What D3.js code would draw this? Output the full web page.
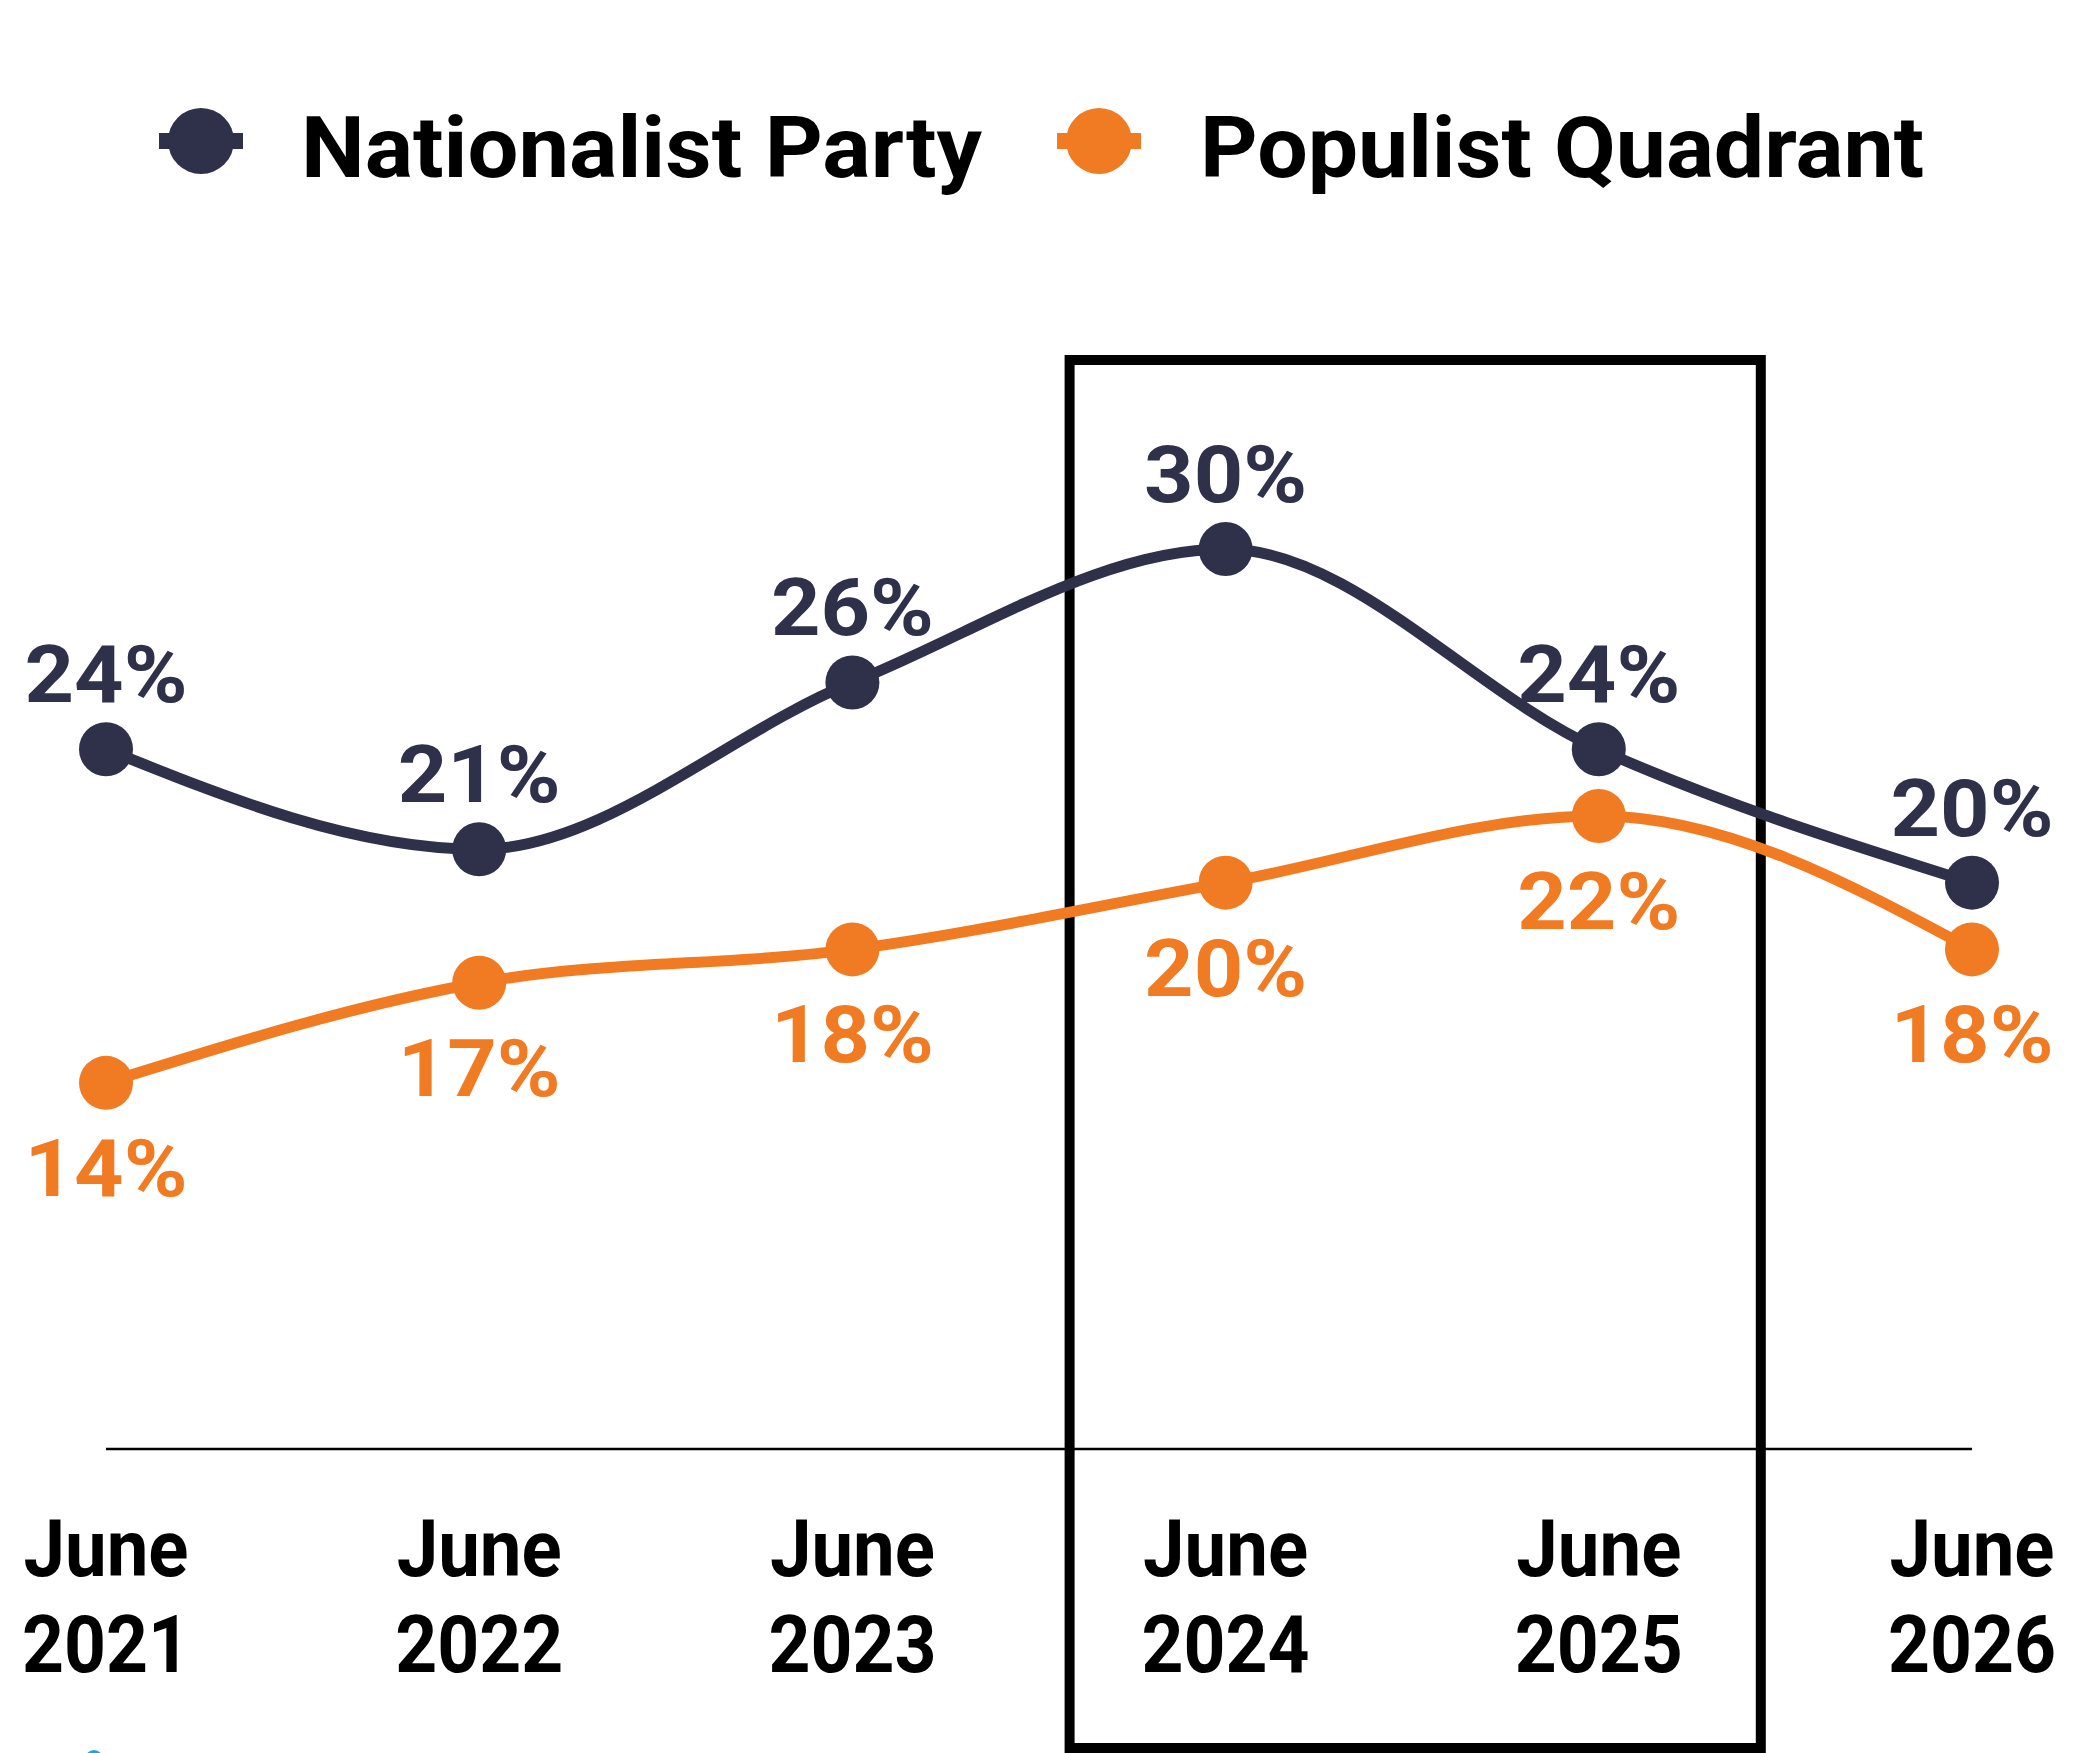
<!DOCTYPE html>
<meta charset="utf-8">
<style>
body { margin: 0; background: #fff; }
text { font-family: Roboto, "Open Sans", sans-serif; font-weight: 700; }
</style>
<svg width="2086" height="1753"></svg>
<script src="https://d3js.org/d3.v7.min.js"></script>
<script>

var periods = ["June 2021", "June 2022", "June 2023", "June 2024", "June 2025", "June 2026"];
var nationalist = [24, 21, 26, 30, 24, 20];
var populist = [14, 17, 18, 20, 22, 18];
var seriesNames = ["Nationalist Party", "Populist Quadrant"];
var highlighted = ["June 2024", "June 2025"];

var navy = "#2f3049",
    orange = "#f17b23";

var svg = d3.select("svg");

var x = d3.scalePoint().domain(periods).range([106, 1972]);
var y = d3.scaleLinear().domain([0, 30]).range([1550, 549]);

var line = d3.line()
    .x(function(d, i) { return x(periods[i]); })
    .y(function(d) { return y(d); })
    .curve(d3.curveMonotoneX);

// baseline
svg.append("line")
    .attr("x1", x(periods[0])).attr("x2", x(periods[periods.length - 1]))
    .attr("y1", 1449).attr("y2", 1449)
    .attr("stroke", "#000").attr("stroke-width", 2.5);

// x labels, two lines each
var xl = svg.selectAll(".xlab").data(periods).enter().append("text")
    .attr("class", "xlab")
    .attr("text-anchor", "middle")
    .attr("font-size", 79)
    .attr("fill", "#000");
xl.append("tspan").attr("x", function(d) { return x(d); }).attr("y", 1576)
    .attr("textLength", 165).attr("lengthAdjust", "spacingAndGlyphs")
    .text(function(d) { return d.split(" ")[0]; });
xl.append("tspan").attr("x", function(d) { return x(d); }).attr("y", 1672)
    .attr("textLength", 168).attr("lengthAdjust", "spacingAndGlyphs")
    .text(function(d) { return d.split(" ")[1]; });

// highlight box round the last two full periods
svg.append("rect")
    .attr("x", x(highlighted[0]) - 156)
    .attr("y", 360)
    .attr("width", x(highlighted[1]) - x(highlighted[0]) + 318)
    .attr("height", 1388)
    .attr("fill", "none")
    .attr("stroke", "#000")
    .attr("stroke-width", 10);

function drawSeries(values, color, above) {
  svg.append("path")
      .attr("d", line(values))
      .attr("fill", "none")
      .attr("stroke", color)
      .attr("stroke-width", 11);

  svg.selectAll(null).data(values).enter().append("circle")
      .attr("cx", function(d, i) { return x(periods[i]); })
      .attr("cy", function(d) { return y(d); })
      .attr("r", 27)
      .attr("fill", color);

  svg.selectAll(null).data(values).enter().append("text")
      .attr("x", function(d, i) { return x(periods[i]); })
      .attr("y", function(d) { return y(d) + (above ? -47 : 113); })
      .attr("text-anchor", "middle")
      .attr("font-size", 80)
      .attr("fill", color)
      .attr("textLength", 163).attr("lengthAdjust", "spacingAndGlyphs")
      .text(function(d) { return d + "%"; });
}

drawSeries(populist, orange, false);
drawSeries(nationalist, navy, true);

// legend
var legend = [
  {name: seriesNames[0], color: navy, cx: 201, tx: 301, w: 681},
  {name: seriesNames[1], color: orange, cx: 1099, tx: 1200, w: 724}
];
legend.forEach(function(l) {
  svg.append("line")
      .attr("x1", l.cx - 42).attr("x2", l.cx + 42)
      .attr("y1", 141).attr("y2", 141)
      .attr("stroke", l.color).attr("stroke-width", 16);
  svg.append("circle")
      .attr("cx", l.cx).attr("cy", 141).attr("r", 33)
      .attr("fill", l.color);
  svg.append("text")
      .attr("x", l.tx).attr("y", 177)
      .attr("font-size", 85)
      .attr("fill", "#000")
      .attr("textLength", l.w).attr("lengthAdjust", "spacingAndGlyphs")
      .text(l.name);
});

// edge of a logo peeking in at the bottom
svg.append("circle")
    .attr("cx", 94).attr("cy", 1759).attr("r", 9)
    .attr("fill", "#1ba3e8");

</script>
